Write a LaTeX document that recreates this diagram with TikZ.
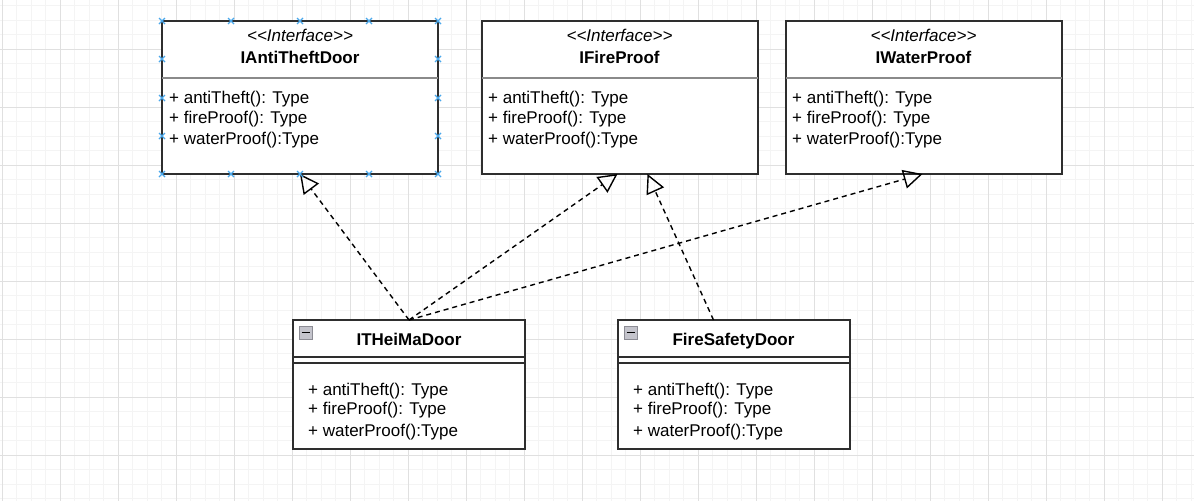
\documentclass[tikz,border=0pt]{standalone}
\usepackage{fontspec}
\setmainfont{Liberation Sans}
\usetikzlibrary{arrows.meta}
\definecolor{gridminor}{HTML}{F4F4F4}
\definecolor{gridmajor}{HTML}{E0E0E0}
\definecolor{boxline}{HTML}{2E2E2E}
\definecolor{divline}{HTML}{8A8A8A}
\definecolor{handle}{HTML}{4AA8EC}
\definecolor{iconfill}{HTML}{C4C4CC}
\definecolor{iconline}{HTML}{8C8C94}
\begin{document}
\begin{tikzpicture}[x=1pt,y=-1pt,
  ibox/.style={draw=boxline, line width=1.5pt, fill=white, minimum width=276pt, minimum height=153pt, inner sep=0pt, outer sep=0pt, anchor=north west},
  cbox/.style={draw=boxline, line width=1.5pt, fill=white, minimum width=232pt, minimum height=129pt, inner sep=0pt, outer sep=0pt, anchor=north west},
  txt/.style={inner sep=0pt, font=\fontsize{17pt}{20pt}\selectfont, anchor=base},
  stereo/.style={txt, font=\fontsize{17pt}{20pt}\selectfont\itshape},
  title/.style={txt, font=\fontsize{17pt}{20pt}\selectfont\bfseries},
  meth/.style={txt, anchor=base west},
  divider/.style={draw=divline, line width=1.2pt},
  sepline/.style={draw=boxline, line width=1.5pt},
  real/.style={draw=black, line width=1.4pt, dash pattern=on 5pt off 4pt,
    -{Triangle[open, length=19pt, width=19pt, line width=1.4pt]}},
  handlemark/.style={draw=handle, line width=1.1pt},
  icon/.style={draw=iconline, fill=iconfill, line width=0.8pt}
]
\useasboundingbox (0,0) rectangle (1194,501);
\fill[white] (0,0) rectangle (1194,501);
\begin{scope}
\clip (0,0) rectangle (1194,501);
\foreach \i in {0,...,82} {
  \draw[gridminor, line width=1pt] ({2+14.5*\i},0) -- ({2+14.5*\i},501);
}
\foreach \j in {0,...,36} {
  \draw[gridminor, line width=1pt] (0,{-9+14.5*\j}) -- (1194,{-9+14.5*\j});
}
\foreach \i in {0,...,21} {
  \draw[gridmajor, line width=1pt] ({2+58*\i},0) -- ({2+58*\i},501);
}
\foreach \j in {0,...,9} {
  \draw[gridmajor, line width=1pt] (0,{-9+58*\j}) -- (1194,{-9+58*\j});
}
\end{scope}

% Interface boxes
\node[ibox] (anti) at (162,21) {};
\node[ibox] (fire) at (482,21) {};
\node[ibox] (water) at (786,21) {};

\foreach \b/\cx/\nm in {anti/300/IAntiTheftDoor, fire/619.5/IFireProof, water/923.5/IWaterProof} {
  \node[stereo] (\b-st) at (\cx,41) {{<}{<}Interface{>}{>}};
  \node[title] (\b-nm) at (\cx,63) {\nm};
  \draw[divider] (\b.west |- 0,78) -- (\b.east |- 0,78);
}
\node[meth] (anti-m1) at (169,103) {+ antiTheft(): Type};
\node[meth] (anti-m2) at (169,123) {+ fireProof(): Type};
\node[meth] (anti-m3) at (169,144) {+ waterProof():Type};
\node[meth] (fire-m1) at (488,103) {+ antiTheft(): Type};
\node[meth] (fire-m2) at (488,123) {+ fireProof(): Type};
\node[meth] (fire-m3) at (488,144) {+ waterProof():Type};
\node[meth] (water-m1) at (792,103) {+ antiTheft(): Type};
\node[meth] (water-m2) at (792,123) {+ fireProof(): Type};
\node[meth] (water-m3) at (792,144) {+ waterProof():Type};

% Class boxes
\node[cbox] (heima) at (293,320) {};
\node[cbox] (safety) at (618,320) {};
\foreach \b/\cx/\nm in {heima/409/ITHeiMaDoor, safety/733.5/FireSafetyDoor} {
  \node[title] (\b-nm) at (\cx,345) {\nm};
  \draw[sepline] (\b.west |- 0,357) -- (\b.east |- 0,357);
  \draw[sepline] (\b.west |- 0,363) -- (\b.east |- 0,363);
}
\draw[icon] (299,326) rectangle (312,339);
\draw[black, line width=1.4pt] (301.5,332.5) -- (309.5,332.5);
\draw[icon] (624,326) rectangle (637,339);
\draw[black, line width=1.4pt] (626.5,332.5) -- (634.5,332.5);

\node[meth] (heima-m1) at (308,395) {+ antiTheft(): Type};
\node[meth] (heima-m2) at (308,414) {+ fireProof(): Type};
\node[meth] (heima-m3) at (308,436) {+ waterProof():Type};
\node[meth] (safety-m1) at (633,395) {+ antiTheft(): Type};
\node[meth] (safety-m2) at (633,414) {+ fireProof(): Type};
\node[meth] (safety-m3) at (633,436) {+ waterProof():Type};

% Realization connectors
\draw[real] (heima.north) -- (anti.south);
\draw[real] (heima.north) -- ([xshift=-2.5pt]fire.south);
\draw[real] (heima.north) -- ([xshift=-1.5pt]water.south);
\draw[real] ([xshift=-20.5pt]safety.north) -- ([xshift=27.5pt]fire.south);

% selection handles on IAntiTheftDoor
\foreach \hx/\hy in {162/21, 231/21, 300/21, 369/21, 438/21,
                     162/174, 231/174, 300/174, 369/174, 438/174,
                     162/59, 162/98, 162/136, 438/59, 438/98, 438/136} {
  \draw[handlemark] (\hx-3,\hy-3) -- (\hx+3,\hy+3);
  \draw[handlemark] (\hx-3,\hy+3) -- (\hx+3,\hy-3);
}
\end{tikzpicture}
\end{document}
